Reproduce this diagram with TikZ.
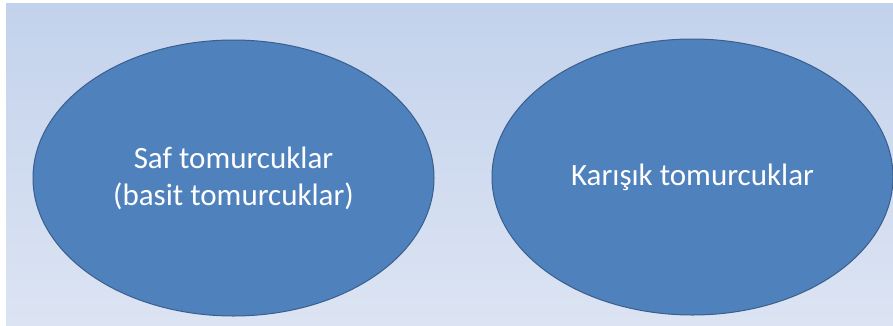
\documentclass[tikz,border=0pt]{standalone}
\usepackage{fontspec}
\setmainfont{Carlito}
\usetikzlibrary{shapes.geometric}
\definecolor{bgtop}{HTML}{C3D2EC}
\definecolor{bgbot}{HTML}{DCE4F3}
\definecolor{ellfill}{HTML}{4F81BD}
\definecolor{ellline}{HTML}{3A5F8C}
\tikzset{
  bud/.style={ellipse, fill=ellfill, draw=ellline, line width=1pt,
    minimum width=401pt, minimum height=276pt, inner sep=0pt,
    text=white, font=\fontsize{31}{37}\selectfont, align=center}
}
\begin{document}
\begin{tikzpicture}[x=1pt,y=-1pt]
  \useasboundingbox (0,0) rectangle (893,325);
  \fill[white] (0,0) rectangle (893,325);
  \shade[top color=bgtop, bottom color=bgbot] (6,3) rectangle (893,325);
  \node[bud] (saf) at (233.5,178) {Saf tomurcuklar\\(basit tomurcuklar)};
  \node[bud] (karisik) at (692.5,177) {Karışık tomurcuklar};
\end{tikzpicture}
\end{document}
